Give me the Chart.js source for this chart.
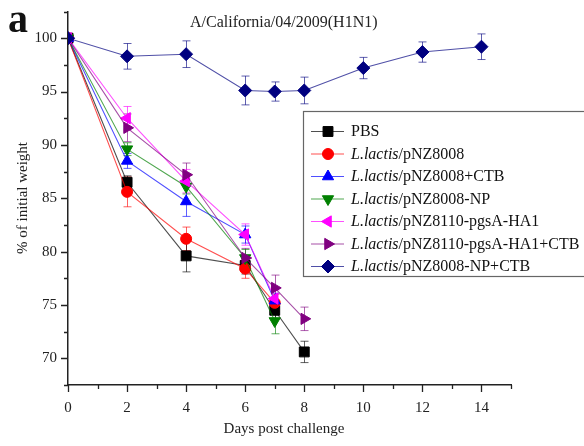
<!DOCTYPE html>
<html>
<head>
<meta charset="utf-8">
<script src="https://cdn.jsdelivr.net/npm/chart.js@4/dist/chart.umd.min.js"></script>
<style>
  html, body { margin: 0; padding: 0; background: #fff; }
  #wrap { width: 584px; height: 446px; }
</style>
</head>
<body>
<div id="wrap"><canvas id="weightChart" width="584" height="446"></canvas></div>
<script>
// body weight after challenge, % of day 0
const daysShort = [0, 2, 4, 6, 7];
const daysToDay8 = [0, 2, 4, 6, 7, 8];
const daysFull = [0, 2, 4, 6, 7, 8, 10, 12, 14];

const pbsWeight = [100, 86.5, 79.6, 78.7, 74.5, 70.6];
const pbsErr = [0, 0.6, 1.5, 0.8, 0.8, 1.0];

const nz8008Weight = [100, 85.6, 81.2, 78.4, 75.2];
const nz8008Err = [0, 1.4, 1.1, 0.9, 0.8];

const nz8008CtbWeight = [100, 88.5, 84.7, 81.6, 75.4];
const nz8008CtbErr = [0, 0.7, 1.4, 0.8, 0.7];

const nz8008NpWeight = [100, 89.6, 86.1, 79.4, 73.5];
const nz8008NpErr = [0, 0.6, 0.7, 0.8, 1.2];

const ha1Weight = [100, 92.5, 86.6, 81.6, 75.6];
const ha1Err = [0, 1.1, 1.1, 1.0, 0.8];

const ha1CtbWeight = [100, 91.6, 87.2, 79.4, 76.6, 73.7];
const ha1CtbErr = [0, 1.3, 1.1, 0.9, 1.2, 1.1];

const npCtbWeight = [100, 98.3, 98.5, 95.1, 95.0, 95.1, 97.2, 98.7, 99.2];
const npCtbErr = [0, 1.2, 1.25, 1.35, 0.9, 1.25, 1.0, 0.95, 1.2];

const xTicks = [0, 2, 4, 6, 8, 10, 12, 14];
const yTicks = [70, 75, 80, 85, 90, 95, 100];

const chartTitle = 'A/California/04/2009(H1N1)';
const panelLetter = 'a';
const xTitle = 'Days post challenge';
const yTitle = '% of initial weight';

// legend text: [italic part, plain part]
const groups = [
  ['', 'PBS'],
  ['L.lactis', '/pNZ8008'],
  ['L.lactis', '/pNZ8008+CTB'],
  ['L.lactis', '/pNZ8008-NP'],
  ['L.lactis', '/pNZ8110-pgsA-HA1'],
  ['L.lactis', '/pNZ8110-pgsA-HA1+CTB'],
  ['L.lactis', '/pNZ8008-NP+CTB']
];

const SERIF = '"Liberation Serif", "DejaVu Serif", serif';

function pts(days, vals) {
  return days.map((d, i) => ({ x: d, y: vals[i] }));
}

function series(i, days, vals, errs, color, style, rot, radius) {
  return {
    label: groups[i].join(''),
    data: pts(days, vals),
    errors: errs,
    markColor: color,
    borderColor: color + 'b0',
    backgroundColor: color,
    pointBackgroundColor: color,
    pointBorderColor: color,
    pointBorderWidth: 1,
    pointStyle: style,
    pointRotation: rot,
    pointRadius: radius,
    borderWidth: 1.1,
    tension: 0,
    order: 6 - i
  };
}

const datasets = [
  series(0, daysToDay8, pbsWeight, pbsErr, '#000000', 'rect', 0, 7),
  series(1, daysShort, nz8008Weight, nz8008Err, '#ff0000', 'circle', 0, 5.5),
  series(2, daysShort, nz8008CtbWeight, nz8008CtbErr, '#0000ff', 'triangle', 0, 6.5),
  series(3, daysShort, nz8008NpWeight, nz8008NpErr, '#008000', 'triangle', 180, 6.5),
  series(4, daysShort, ha1Weight, ha1Err, '#ff00ff', 'triangle', 270, 6.5),
  series(5, daysToDay8, ha1CtbWeight, ha1CtbErr, '#800080', 'triangle', 90, 6.5),
  series(6, daysFull, npCtbWeight, npCtbErr, '#000080', 'rectRot', 0, 6.5)
];

function markPoint(ctx, ds, x, y) {
  ctx.save();
  ctx.fillStyle = ds.markColor;
  ctx.strokeStyle = ds.markColor;
  ctx.lineWidth = 1;
  Chart.helpers.drawPoint(ctx, {
    pointStyle: ds.pointStyle,
    rotation: ds.pointRotation,
    radius: ds.pointRadius,
    borderWidth: 1
  }, x, y);
  ctx.restore();
}

// error bars go under the lines and markers
const errorBars = {
  id: 'errorBars',
  beforeDatasetsDraw(chart) {
    const { ctx, scales: { x, y } } = chart;
    ctx.save();
    ctx.lineWidth = 1;
    datasets.slice().reverse().forEach(ds => {
      ctx.strokeStyle = ds.markColor + 'a0';
      ds.data.forEach((p, j) => {
        const e = ds.errors[j];
        if (!e) return;
        const px = Math.round(x.getPixelForValue(p.x)) + 0.5;
        const top = y.getPixelForValue(p.y + e);
        const bot = y.getPixelForValue(p.y - e);
        ctx.beginPath();
        ctx.moveTo(px, top); ctx.lineTo(px, bot);
        ctx.moveTo(px - 4, top); ctx.lineTo(px + 4, top);
        ctx.moveTo(px - 4, bot); ctx.lineTo(px + 4, bot);
        ctx.stroke();
      });
    });
    ctx.restore();
  }
};

// tick marks, titles and the boxed legend
const decorations = {
  id: 'decorations',
  afterDraw(chart) {
    const { ctx, chartArea: area, scales: { x, y } } = chart;
    ctx.save();
    ctx.strokeStyle = '#222';
    ctx.lineWidth = 1.3;
    ctx.beginPath();
    for (let d = 0; d <= 15; d++) {
      const px = Math.round(x.getPixelForValue(d)) + 0.5;
      const len = d % 2 === 0 ? 7 : 4;
      ctx.moveTo(px, area.bottom); ctx.lineTo(px, area.bottom + len);
    }
    for (let v = 67.5; v <= 102.5; v += 2.5) {
      const py = Math.round(y.getPixelForValue(v)) + 0.5;
      const len = v % 5 === 0 ? 7 : 4;
      ctx.moveTo(area.left, py); ctx.lineTo(area.left - len, py);
    }
    ctx.stroke();

    ctx.fillStyle = '#111';
    ctx.textBaseline = 'alphabetic';
    ctx.textAlign = 'left';
    ctx.font = 'bold 40px ' + SERIF;
    ctx.fillText(panelLetter, 8, 32);

    ctx.font = '16px ' + SERIF;
    ctx.fillStyle = '#222';
    ctx.fillText(chartTitle, 190, 27);

    ctx.font = '15px ' + SERIF;
    ctx.textAlign = 'center';
    ctx.fillText(xTitle, 284, 433);
    ctx.save();
    ctx.translate(27, 198);
    ctx.rotate(-Math.PI / 2);
    ctx.fillText(yTitle, 0, 0);
    ctx.restore();

    // legend box
    const bx = 303.5, by = 111.5, bw = 290, bh = 165;
    ctx.fillStyle = '#fff';
    ctx.fillRect(bx, by, bw, bh);
    ctx.strokeStyle = '#666';
    ctx.lineWidth = 1.2;
    ctx.strokeRect(bx, by, bw, bh);

    datasets.forEach((ds, i) => {
      const ry = 131 + i * 22.5;
      ctx.strokeStyle = ds.borderColor;
      ctx.lineWidth = 1.1;
      ctx.beginPath();
      ctx.moveTo(311, ry + 0.5); ctx.lineTo(344, ry + 0.5);
      ctx.stroke();
      markPoint(ctx, ds, 328, ry + 0.5);

      ctx.fillStyle = '#111';
      ctx.textAlign = 'left';
      ctx.textBaseline = 'middle';
      let tx = 351;
      const [it, plain] = groups[i];
      if (it) {
        ctx.font = 'italic 16px ' + SERIF;
        ctx.fillText(it, tx, ry + 1);
        tx += ctx.measureText(it).width;
      }
      ctx.font = '16px ' + SERIF;
      ctx.fillText(plain, tx, ry + 1);
    });
    ctx.restore();
  }
};

new Chart(document.getElementById('weightChart'), {
  type: 'line',
  data: { datasets },
  plugins: [errorBars, decorations],
  options: {
    responsive: false,
    animation: false,
    devicePixelRatio: 1,
    layout: { padding: { left: 0, right: 73, top: 11.5, bottom: 0 } },
    plugins: { legend: { display: false }, tooltip: { enabled: false } },
    scales: {
      x: {
        type: 'linear',
        min: 0,
        max: 15,
        afterFit(scale) {
          scale.height = 61;
          scale.paddingLeft = 0;
          scale.paddingRight = 0;
        },
        afterBuildTicks(scale) {
          scale.ticks = xTicks.map(v => ({ value: v }));
        },
        ticks: {
          autoSkip: false,
          maxRotation: 0,
          padding: 14,
          color: '#222',
          font: { family: SERIF, size: 15 }
        },
        grid: { drawOnChartArea: false, drawTicks: false },
        border: { color: '#222', width: 1.5 }
      },
      y: {
        min: 67.5,
        max: 102.5,
        afterFit(scale) {
          scale.width = 68;
          scale.paddingTop = 0;
          scale.paddingBottom = 0;
        },
        afterBuildTicks(scale) {
          scale.ticks = yTicks.map(v => ({ value: v }));
        },
        ticks: {
          padding: 11,
          color: '#222',
          font: { family: SERIF, size: 15 }
        },
        grid: { drawOnChartArea: false, drawTicks: false },
        border: { color: '#222', width: 1.5 }
      }
    }
  }
});
</script>
</body>
</html>
